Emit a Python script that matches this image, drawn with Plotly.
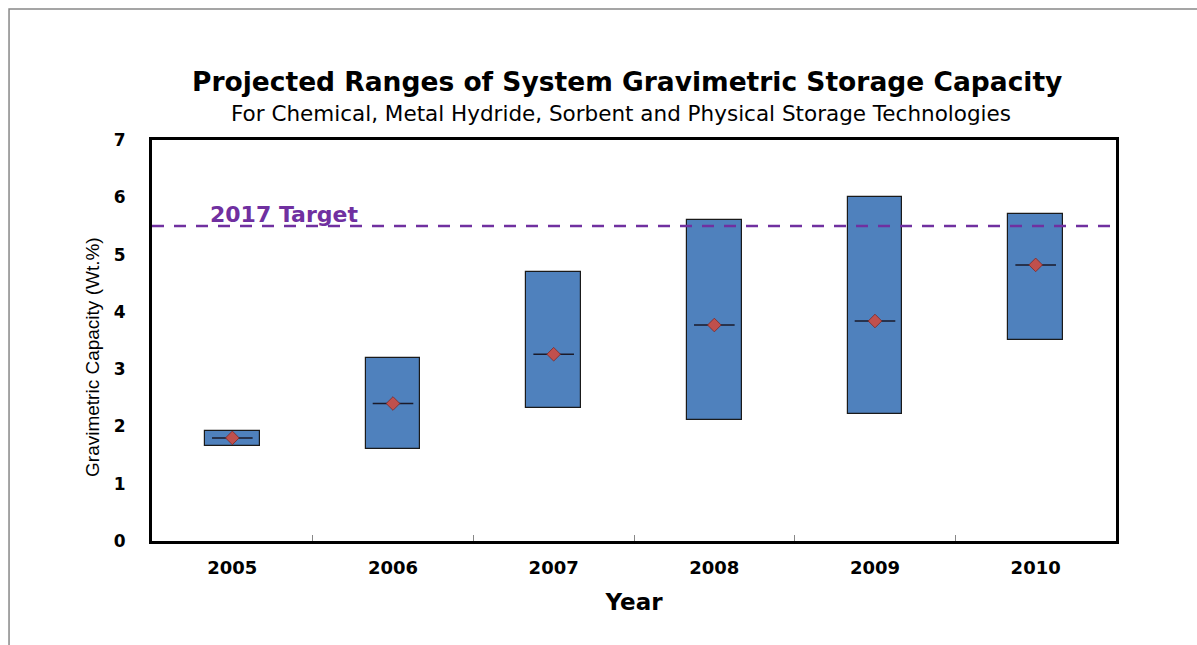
import plotly.graph_objects as go

years = ["2005", "2006", "2007", "2008", "2009", "2010"]
low = [1.66, 1.60, 2.32, 2.11, 2.22, 3.51]
high = [1.92, 3.20, 4.70, 5.60, 6.00, 5.70]
mid = [1.80, 2.40, 3.26, 3.77, 3.84, 4.82]
target = 5.5
y_ticks = [0, 1, 2, 3, 4, 5, 6, 7]

fig = go.Figure()
fig.add_trace(go.Bar(
    x=years, y=[h - l for h, l in zip(high, low)], base=low, width=0.34,
    marker=dict(color="#4F81BD", line=dict(color="#1a1a1a", width=1.2)),
    showlegend=False, hoverinfo="skip"))
fig.add_trace(go.Scatter(
    x=years, y=mid, mode="markers",
    marker=dict(symbol="line-ew", size=29, line=dict(color="#1a1a2a", width=1.5)),
    showlegend=False, hoverinfo="skip"))
fig.add_trace(go.Scatter(
    x=years, y=mid, mode="markers",
    marker=dict(symbol="diamond", size=10.5, color="#C0504D", line=dict(color="#7a2a28", width=0.8)),
    showlegend=False))

fig.add_shape(type="line", xref="paper", yref="y", x0=0, x1=1, y0=target, y1=target,
              line=dict(color="#7030A0", width=2.5, dash="12px,10px"), layer="above")
fig.add_annotation(xref="paper", yref="y", x=0.058, y=target, xanchor="left", yanchor="bottom",
                   yshift=-3, text="<b>2017 Target</b>", showarrow=False,
                   font=dict(family="DejaVu Sans", size=22, color="#7030A0"))

# outer border
fig.add_shape(type="rect", xref="paper", yref="paper", x0=-0.1483, x1=1.1, y0=-0.4, y1=1.3267,
              line=dict(color="#888888", width=1.5), layer="below")

fig.add_annotation(xref="paper", yref="paper", x=0.493, y=1.145, xanchor="center", yanchor="middle",
                   text="<b>Projected Ranges of System Gravimetric Storage Capacity</b>", showarrow=False,
                   font=dict(family="DejaVu Sans, Arial", size=26.5, color="black"))
fig.add_annotation(xref="paper", yref="paper", x=0.487, y=1.067, xanchor="center", yanchor="middle",
                   text="For Chemical, Metal Hydride, Sorbent and Physical Storage Technologies", showarrow=False,
                   font=dict(family="DejaVu Sans, Arial", size=21.5, color="black"))
fig.add_annotation(xref="paper", yref="paper", x=-0.0612, y=0.459, xanchor="center", yanchor="middle",
                   text="Gravimetric Capacity (Wt.%)", textangle=-90, showarrow=False,
                   font=dict(family="Liberation Sans Narrow, Liberation Sans, Arial", size=19, color="black"))

fig.update_layout(
    width=1197, height=645,
    margin=dict(l=152, r=81, t=140, b=104),
    paper_bgcolor="white", plot_bgcolor="white",
    xaxis=dict(type="category", tickson="boundaries", ticks="inside", ticklen=6, tickwidth=1,
               tickcolor="#888888", showline=True, linecolor="black", linewidth=3, mirror=True,
               showgrid=False, ticklabelstandoff=8,
               tickfont=dict(family="DejaVu Sans", size=18, color="black", weight="bold"),
               title=dict(text="<b>Year</b>", font=dict(family="DejaVu Sans", size=23, color="black"),
                          standoff=18)),
    yaxis=dict(range=[0, 7], tickvals=y_ticks, showline=True, linecolor="black", linewidth=3, mirror=True,
               showgrid=False, zeroline=False, ticks="", ticklabelstandoff=20,
               tickfont=dict(family="DejaVu Sans", size=17, color="black", weight="bold")),
    bargap=0,
)

fig.write_html("out.html")
